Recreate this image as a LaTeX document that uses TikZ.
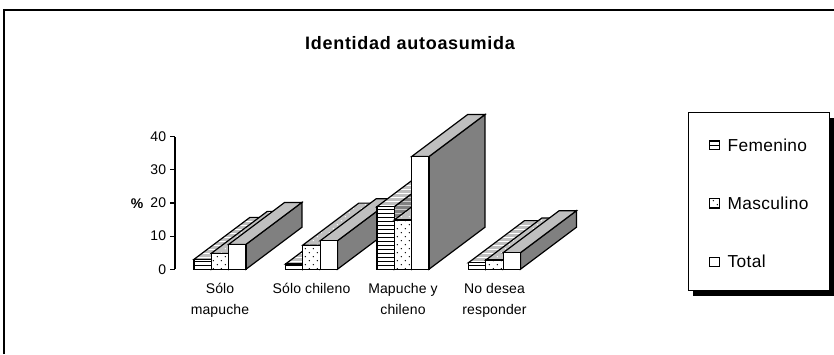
\documentclass[tikz,border=0pt]{standalone}
\usepackage{fontspec}
\setmainfont{Liberation Sans}
\usetikzlibrary{patterns, positioning, shadows}
\def\cero{269.3}
\def\escala{3.315}
\def\ancho{17.3}

\pgfdeclarepatternformonly{puntos}{\pgfqpoint{-1pt}{-1pt}}{\pgfqpoint{7pt}{7pt}}{\pgfqpoint{6pt}{6pt}}{%
  \pgfpathcircle{\pgfqpoint{1pt}{1pt}}{0.55pt}%
  \pgfpathcircle{\pgfqpoint{4pt}{4pt}}{0.55pt}%
  \pgfusepath{fill}}

% una columna: x izquierda, valor, serie
\newcommand{\columna}[3]{%
  \pgfmathsetmacro{\alto}{\cero-\escala*#2}
  \draw[lado #3] (#1+\ancho,\cero) -- ++(56,-42) -- (#1+\ancho+56,\alto-42) -- (#1+\ancho,\alto) -- cycle;
  \draw[tapa #3] (#1,\alto) -- (#1+\ancho,\alto) -- (#1+\ancho+56,\alto-42) -- (#1+56,\alto-42) -- cycle;
  \draw[frente #3] (#1,\cero) rectangle (#1+\ancho,\alto);
}
\newcommand{\grupo}[4]{%
  \columna{#1}{#2}{fem}
  \columna{#1+\ancho}{#3}{mas}
  \columna{#1+2*\ancho}{#4}{tot}
}

\begin{document}
\begin{tikzpicture}[x=0.75pt,y=-0.75pt,line width=0.9pt]
    \tikzstyle{frente fem}=[preaction={fill=white}, pattern=horizontal lines]
    \tikzstyle{frente mas}=[preaction={fill=white}, pattern=puntos]
    \tikzstyle{frente tot}=[fill=white]
    \tikzstyle{tapa fem}=[preaction={fill=gray!50}, pattern=horizontal lines, pattern color=white]
    \tikzstyle{tapa mas}=[preaction={fill=gray!50}, pattern=puntos, pattern color=white]
    \tikzstyle{tapa tot}=[fill=gray!50]
    \tikzstyle{lado fem}=[preaction={fill=gray}, pattern=horizontal lines, pattern color=gray!40]
    \tikzstyle{lado mas}=[preaction={fill=gray}, pattern=puntos, pattern color=gray!40]
    \tikzstyle{lado tot}=[fill=gray]
    \tikzstyle{marca}=[draw, line width=0.8pt, minimum size=7pt, inner sep=0pt]
    \tikzstyle{texto ley}=[inner sep=0pt, font=\fontsize{13}{15}\selectfont\addfontfeature{LetterSpace=2}]
    \tikzstyle{categoria}=[align=center, inner sep=0pt, font=\fontsize{10.5}{15.75}\selectfont\addfontfeature{LetterSpace=1}]
    \tikzstyle{valor}=[anchor=east, inner sep=0pt, font=\fontsize{10.5}{12}\selectfont]

    \useasboundingbox (0,0) rectangle (834,354);
    \draw[line width=1.5pt] (4,354) -- (4,10) -- (834,10);

    \node[font=\fontsize{13.5}{16}\selectfont\bfseries\addfontfeature{LetterSpace=4}, anchor=base, inner sep=0pt] (titulo) at (410,49.5) {Identidad autoasumida};

    % eje
    \draw (175,\cero) -- (175,\cero-40*\escala);
    \foreach \v in {0,10,20,30,40}
        \draw (170,\cero-\v*\escala) -- (175,\cero-\v*\escala) node[valor, at start, xshift=-2.5pt] (t\v) {\v};
    \node[font=\fontsize{10.5}{12}\selectfont\bfseries] (pct) at (137,204) {\%};

    \grupo{194}{3.0}{4.8}{7.5}
    \grupo{285.5}{1.6}{7.3}{8.6}
    \grupo{377}{18.9}{14.9}{34.0}
    \grupo{468.5}{2.0}{2.8}{5.0}

    \node[categoria, anchor=north] (c1) at (220,282.5) {Sólo\\mapuche};
    \node[categoria, anchor=north] (c2) at (311.5,282.5) {Sólo chileno};
    \node[categoria, anchor=north] (c3) at (403,282.5) {Mapuche y\\chileno};
    \node[categoria, anchor=north] (c4) at (494.5,282.5) {No desea\\responder};

    % leyenda
    \node[draw, fill=white, line width=1pt, minimum width=105.75pt, minimum height=133.8pt, inner sep=0pt,
          drop shadow={shadow xshift=3.75pt, shadow yshift=-4pt, opacity=1, fill=black}] (ley) at (758.8,201.5) {};
    \node[marca, preaction={fill=white}, pattern=horizontal lines] (mfem) at (714.5,145) {};
    \node[marca, preaction={fill=white}, pattern=puntos] (mmas) at (714.5,203.3) {};
    \node[marca, fill=white] (mtot) at (714.5,261.7) {};
    \node[texto ley, right=5.5pt of mfem] (lfem) {Femenino};
    \node[texto ley, right=5.5pt of mmas] (lmas) {Masculino};
    \node[texto ley, right=5.5pt of mtot] (ltot) {Total};
\end{tikzpicture}
\end{document}
